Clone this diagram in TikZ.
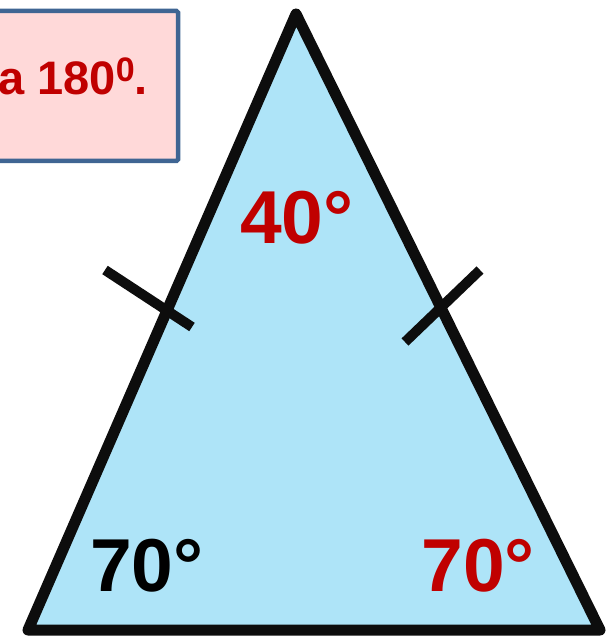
\documentclass[tikz,border=0pt]{standalone}
\usepackage{fontspec}
\setmainfont{Liberation Sans}
\definecolor{boxfill}{HTML}{FFD9D9}
\definecolor{boxline}{HTML}{3F6593}
\definecolor{trifill}{HTML}{AEE4F8}
\definecolor{triline}{HTML}{0D0D0D}
\definecolor{angred}{HTML}{C00000}
\begin{document}
\begin{tikzpicture}[x=1pt,y=-1pt,
  sideline/.style={draw=triline,line width=11pt,line join=round,fill=trifill},
  tickmark/.style={draw=triline,line width=10pt,line cap=butt},
  anglabel/.style={font=\fontsize{75}{75}\selectfont\bfseries,inner sep=0pt,anchor=base},
  notebox/.style={draw=boxline,line width=4.5pt,fill=boxfill,rounded corners=1.5pt}]
\useasboundingbox (0,0) rectangle (614,636);
% note box
\draw[notebox] (-20,11) rectangle (178,161);
\node[font=\fontsize{47}{47}\selectfont\bfseries,text=angred,inner sep=0pt,anchor=base east] (note) at (148,95) {a 180\raisebox{13pt}{\fontsize{34}{34}\selectfont 0}.};
% triangle
\coordinate (A) at (296,14);
\coordinate (B) at (28,630);
\coordinate (C) at (600,630);
\draw[sideline] (A) -- (B) -- (C) -- cycle;
% tick marks
\coordinate (t1a) at (105,270);
\coordinate (t1b) at (192,327);
\coordinate (t2a) at (405,342);
\coordinate (t2b) at (480,270);
\draw[tickmark] (t1a) -- (t1b);
\draw[tickmark] (t2a) -- (t2b);
% angle labels
\node[anglabel,text=angred] (top) at (297,243) {40°};
\node[anglabel,text=black] (left) at (147,591) {70°};
\node[anglabel,text=angred] (right) at (478,591) {70°};
\end{tikzpicture}
\end{document}
